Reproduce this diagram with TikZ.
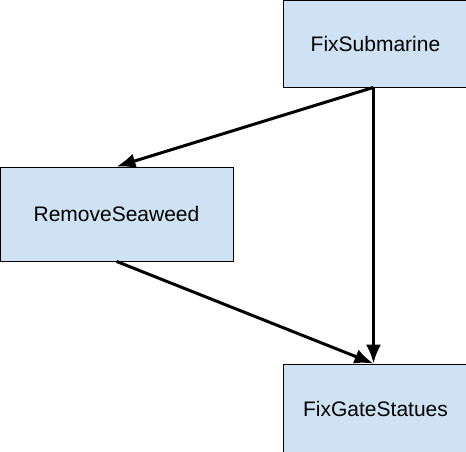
\documentclass[tikz,border=0pt]{standalone}
\usepackage{fontspec}
\setmainfont{Liberation Sans}
\usepackage{xcolor}
\usetikzlibrary{arrows.meta}
\definecolor{boxblue}{HTML}{CFE2F3}
\tikzset{edge/.style = {-{Latex[length=19pt,width=15pt]}, line width=3pt}}

\begin{document}
\begin{tikzpicture}[x=1pt,y=-1pt,task node/.style={rectangle,draw,fill=boxblue,line width=0.8pt,inner sep=0pt,font=\fontsize{21}{25}\selectfont}]
            \useasboundingbox (0,0) rectangle (466,452);
            \node[task node,minimum width=185pt,minimum height=87pt] (sub) at (375.5,43.5) {FixSubmarine};
            \node[task node,minimum width=233pt,minimum height=94pt] (weed) at (116.5,214) {RemoveSeaweed};
            \node[task node,minimum width=185pt,minimum height=90pt] (gate) at (375.5,409) {FixGateStatues};
            \draw[edge] ([xshift=-2pt]sub.south) -- (weed.north);
            \draw[edge] ([xshift=-2pt]sub.south) -- ([xshift=-2pt]gate.north);
            \draw[edge] (weed.south) -- ([xshift=-2pt]gate.north);
        \end{tikzpicture}
\end{document}
